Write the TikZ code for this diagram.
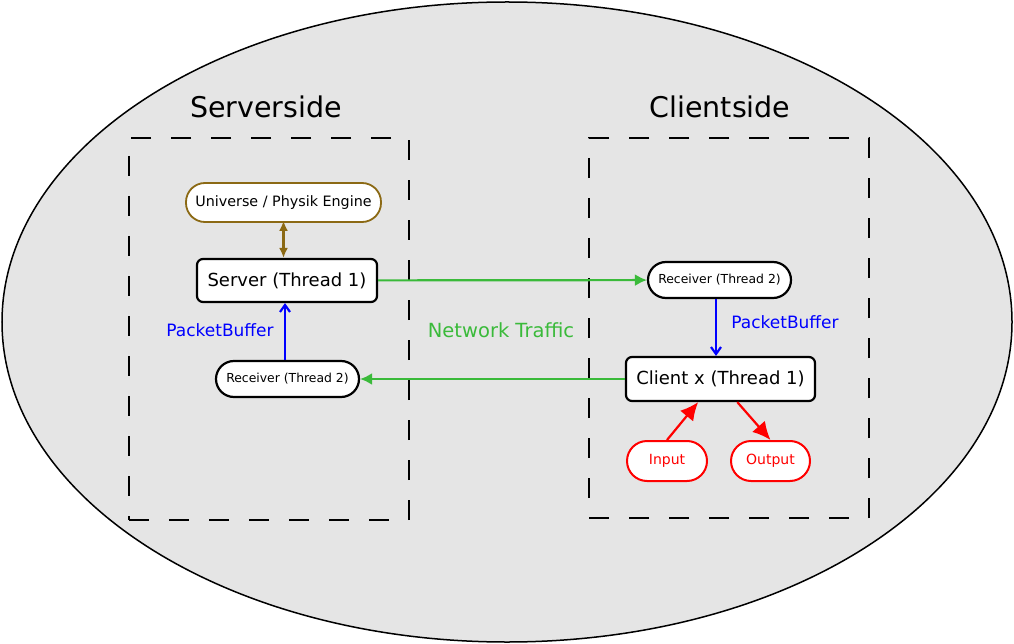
\documentclass[tikz,border=0pt]{standalone}
\usepackage{fontspec}
\setmainfont{DejaVu Sans}
\usepackage{xcolor}
\usepackage{tikz}
\usetikzlibrary{arrows.meta,positioning,calc}

\definecolor{bggray}{RGB}{229,229,229}
\definecolor{netgreen}{RGB}{58,186,58}
\definecolor{unibrown}{RGB}{139,105,20}

\begin{document}
\begin{tikzpicture}[x=1pt, y=-1pt]
\tikzset{el/.style={draw, line width=2.2pt, fill=white, rectangle, rounded corners=6pt, font=\fontsize{18}{20}\selectfont},
pill/.style={draw, line width=2.2pt, fill=white, rectangle, minimum height=36pt, rounded corners=18pt, font=\fontsize{12.4}{14}\selectfont},
dashbox/.style={draw, line width=2.2pt, dash pattern=on 20pt off 20pt, minimum width=280pt},
side/.style={font=\fontsize{28.5}{30}\selectfont},
buf/.style={blue, font=\fontsize{17}{19}\selectfont},
con/.style={line width=2.2pt}}

\useasboundingbox (0,0) rectangle (1014,644);

% Background
\filldraw[fill=bggray, draw=black, line width=1.5pt] (507,322) ellipse (505pt and 320pt);

% Sides
\node[dashbox, minimum height=382pt] (srvbox) at (269,329) {};
\node[dashbox, minimum height=380pt] (clibox) at (729,328) {};
\node[side] (srvside) at (266,107) {Serverside};
\node[side] (clientside) at (720,107) {Clientside};

% Serverside
\node[pill, draw=unibrown, line width=1.8pt, minimum width=195pt, minimum height=39pt, rounded corners=19pt,
 font=\fontsize{14.3}{16}\selectfont] (uni) at (283.5,202.5) {Universe / Physik Engine};
\node[el, minimum width=180pt, minimum height=43pt] (srv) at (287,280.5) {Server (Thread 1)};
\node[pill, minimum width=143pt] (rcvs) at (287.5,379) {Receiver (Thread 2)};
\node[buf] (bufs) at (220,330) {PacketBuffer};

% Clientside
\node[pill, minimum width=143pt] (rcvc) at (719.5,280) {Receiver (Thread 2)};
\node[el, minimum width=189pt, minimum height=44pt] (cli) at (720.5,379) {Client x (Thread 1)};
\node[buf] (bufc) at (785,322) {PacketBuffer};
\node[pill, draw=red, text=red, line width=2pt, minimum width=80pt, minimum height=40pt, rounded corners=20pt,
 font=\fontsize{14}{16}\selectfont] (inp) at (667,461) {Input};
\node[pill, draw=red, text=red, line width=2pt, minimum width=79pt, minimum height=40pt, rounded corners=20pt,
 font=\fontsize{14}{16}\selectfont] (outp) at (770.5,461) {Output};

% Network
\node[netgreen, font=\fontsize{19.5}{21}\selectfont] (net) at (501,330) {Network Traffic};

% Connections
\draw[con, {Latex[length=10pt,width=9pt]}-{Latex[length=10pt,width=9pt]}, unibrown]
 ([yshift=2pt]uni.south) -- (uni.south |- srv.north);
\draw[con, -{Latex[length=12pt,width=12pt]}, netgreen] (srv) -- (rcvc);
\draw[con, -{Latex[length=12pt,width=12pt]}, netgreen] (cli) -- (rcvs);
\draw[con, -{Straight Barb[length=7pt,width=10pt]}, blue] ([xshift=-2.5pt]rcvs.north) -- ([xshift=-2.5pt]rcvs.north |- srv.south);
\draw[con, -{Straight Barb[length=7pt,width=10pt]}, blue] ([xshift=-3.5pt]rcvc.south) -- ([xshift=-3.5pt]rcvc.south |- cli.north);
\draw[con, -{Latex[length=18pt,width=17pt]}, red] (inp.north) -- (cli.226);
\draw[con, -{Latex[length=18pt,width=17pt]}, red] (cli.306) -- (outp.north);

\end{tikzpicture}
\end{document}
